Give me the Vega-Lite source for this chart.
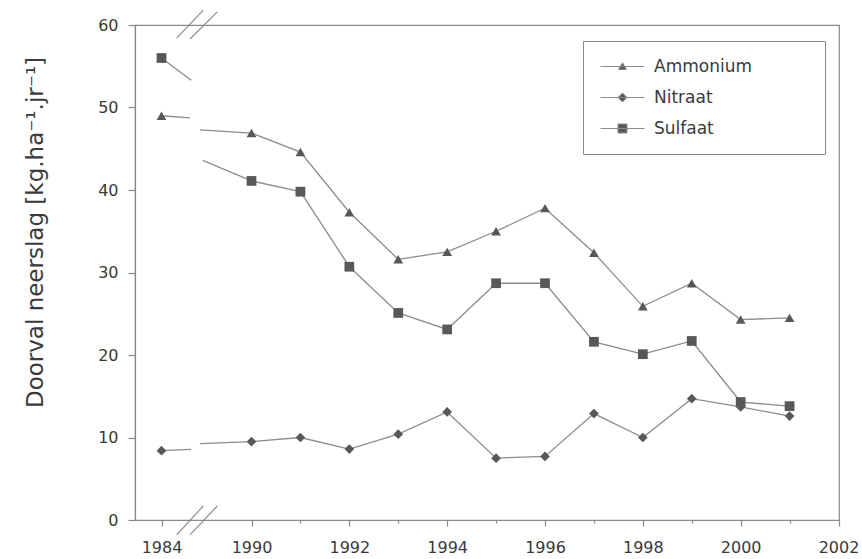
{
  "$schema": "https://vega.github.io/schema/vega-lite/v6.json",
  "width": 704,
  "height": 495,
  "autosize": {"type": "none"},
  "padding": {"left": 135, "top": 25, "right": 23, "bottom": 39},
  "background": "white",
  "config": {
    "view": {"stroke": "#8a8a8a", "strokeWidth": 1.2},
    "font": "DejaVu Sans",
    "axis": {"grid": false, "domainColor": "#8a8a8a", "domainWidth": 1.2, "tickColor": "#8a8a8a", "tickWidth": 1.2, "labelColor": "#3a3a3a", "titleColor": "#3a3a3a", "labelFont": "DejaVu Sans", "titleFont": "DejaVu Sans"}
  },
  "datasets": {
    "reeks": [
      {"stof": "Ammonium", "deel": "a", "jaar": 1984, "waarde": 49.0},
      {"stof": "Ammonium", "deel": "a", "jaar": 1985.9, "waarde": 48.75},
      {"stof": "Ammonium", "deel": "b", "jaar": 1986.57, "waarde": 47.3},
      {"stof": "Ammonium", "deel": "b", "jaar": 1990, "waarde": 46.9},
      {"stof": "Ammonium", "deel": "b", "jaar": 1991, "waarde": 44.6},
      {"stof": "Ammonium", "deel": "b", "jaar": 1992, "waarde": 37.3},
      {"stof": "Ammonium", "deel": "b", "jaar": 1993, "waarde": 31.6},
      {"stof": "Ammonium", "deel": "b", "jaar": 1994, "waarde": 32.5},
      {"stof": "Ammonium", "deel": "b", "jaar": 1995, "waarde": 35.0},
      {"stof": "Ammonium", "deel": "b", "jaar": 1996, "waarde": 37.8},
      {"stof": "Ammonium", "deel": "b", "jaar": 1997, "waarde": 32.4},
      {"stof": "Ammonium", "deel": "b", "jaar": 1998, "waarde": 25.9},
      {"stof": "Ammonium", "deel": "b", "jaar": 1999, "waarde": 28.7},
      {"stof": "Ammonium", "deel": "b", "jaar": 2000, "waarde": 24.3},
      {"stof": "Ammonium", "deel": "b", "jaar": 2001, "waarde": 24.5},
      {"stof": "Nitraat", "deel": "a", "jaar": 1984, "waarde": 8.4},
      {"stof": "Nitraat", "deel": "a", "jaar": 1985.98, "waarde": 8.55},
      {"stof": "Nitraat", "deel": "b", "jaar": 1986.57, "waarde": 9.25},
      {"stof": "Nitraat", "deel": "b", "jaar": 1990, "waarde": 9.5},
      {"stof": "Nitraat", "deel": "b", "jaar": 1991, "waarde": 10.0},
      {"stof": "Nitraat", "deel": "b", "jaar": 1992, "waarde": 8.6},
      {"stof": "Nitraat", "deel": "b", "jaar": 1993, "waarde": 10.4},
      {"stof": "Nitraat", "deel": "b", "jaar": 1994, "waarde": 13.1},
      {"stof": "Nitraat", "deel": "b", "jaar": 1995, "waarde": 7.5},
      {"stof": "Nitraat", "deel": "b", "jaar": 1996, "waarde": 7.7},
      {"stof": "Nitraat", "deel": "b", "jaar": 1997, "waarde": 12.9},
      {"stof": "Nitraat", "deel": "b", "jaar": 1998, "waarde": 10.0},
      {"stof": "Nitraat", "deel": "b", "jaar": 1999, "waarde": 14.7},
      {"stof": "Nitraat", "deel": "b", "jaar": 2000, "waarde": 13.7},
      {"stof": "Nitraat", "deel": "b", "jaar": 2001, "waarde": 12.6},
      {"stof": "Sulfaat", "deel": "a", "jaar": 1984, "waarde": 56.0},
      {"stof": "Sulfaat", "deel": "a", "jaar": 1985.98, "waarde": 53.3},
      {"stof": "Sulfaat", "deel": "b", "jaar": 1986.75, "waarde": 43.6},
      {"stof": "Sulfaat", "deel": "b", "jaar": 1990, "waarde": 41.1},
      {"stof": "Sulfaat", "deel": "b", "jaar": 1991, "waarde": 39.8},
      {"stof": "Sulfaat", "deel": "b", "jaar": 1992, "waarde": 30.7},
      {"stof": "Sulfaat", "deel": "b", "jaar": 1993, "waarde": 25.1},
      {"stof": "Sulfaat", "deel": "b", "jaar": 1994, "waarde": 23.1},
      {"stof": "Sulfaat", "deel": "b", "jaar": 1995, "waarde": 28.7},
      {"stof": "Sulfaat", "deel": "b", "jaar": 1996, "waarde": 28.7},
      {"stof": "Sulfaat", "deel": "b", "jaar": 1997, "waarde": 21.6},
      {"stof": "Sulfaat", "deel": "b", "jaar": 1998, "waarde": 20.1},
      {"stof": "Sulfaat", "deel": "b", "jaar": 1999, "waarde": 21.7},
      {"stof": "Sulfaat", "deel": "b", "jaar": 2000, "waarde": 14.3},
      {"stof": "Sulfaat", "deel": "b", "jaar": 2001, "waarde": 13.8}
    ],
    "breuk": [
      {"x1": 1985.01, "x2": 1986.79, "y1": 58.4, "y2": 61.8},
      {"x1": 1985.9, "x2": 1987.72, "y1": 58.3, "y2": 61.6},
      {"x1": 1985.01, "x2": 1986.79, "y1": -1.8, "y2": 1.7},
      {"x1": 1985.9, "x2": 1987.72, "y1": -1.8, "y2": 1.7}
    ]
  },
  "resolve": {"scale": {"shape": "independent"}, "legend": {"shape": "independent"}},
  "layer": [
    {
      "data": {"name": "reeks"},
      "mark": {"type": "line", "color": "#8c8c8c", "strokeWidth": 1.3},
      "encoding": {
        "x": {
          "field": "jaar", "type": "quantitative",
          "scale": {"domain": [1984, 1990, 2002], "range": [26.5, 116.5, 703.5], "zero": false, "nice": false},
          "axis": {
            "title": null,
            "values": [1984, 1990, 1991, 1992, 1993, 1994, 1995, 1996, 1997, 1998, 1999, 2000, 2001, 2002],
            "format": "d",
            "labelExpr": "datum.value % 2 === 0 ? datum.label : ''",
            "tickSize": {"condition": {"test": "datum.value % 2 === 1", "value": 3}, "value": 6},
            "labelFontSize": 16,
            "labelPadding": 13,
            "labelFlush": false
          }
        },
        "y": {
          "field": "waarde", "type": "quantitative",
          "scale": {"domain": [0, 60], "nice": false},
          "axis": {
            "values": [0, 10, 20, 30, 40, 50, 60],
            "title": "Doorval neerslag [kg.ha⁻¹.jr⁻¹]",
            "titleFontSize": 23,
            "titleFontWeight": "normal",
            "titleX": -93,
            "titleY": 207,
            "titleBaseline": "alphabetic",
            "tickSize": 7,
            "labelPadding": 10,
            "labelFontSize": 16
          }
        },
        "detail": [{"field": "stof"}, {"field": "deel"}]
      }
    },
    {
      "data": {"name": "reeks"},
      "transform": [{"filter": "datum.jaar % 1 === 0"}],
      "mark": {"type": "point", "filled": true, "color": "#585858", "opacity": 1, "size": 95},
      "encoding": {
        "x": {"field": "jaar", "type": "quantitative"},
        "y": {"field": "waarde", "type": "quantitative"},
        "shape": {
          "field": "stof", "type": "nominal",
          "scale": {"domain": ["Ammonium", "Nitraat", "Sulfaat"], "range": ["triangle-up", "diamond", "square"]},
          "legend": null
        }
      }
    },
    {
      "data": {"name": "reeks"},
      "transform": [{"filter": "datum.jaar === 1984"}],
      "mark": {"type": "point", "filled": false, "fill": "#585858", "stroke": "#8c8c8c", "strokeWidth": 1, "opacity": 0, "size": 100},
      "encoding": {
        "x": {"field": "jaar", "type": "quantitative"},
        "y": {"field": "waarde", "type": "quantitative"},
        "shape": {
          "field": "stof", "type": "nominal",
          "scale": {
            "domain": ["Ammonium", "Nitraat", "Sulfaat"],
            "range": ["M-4.4,0H4.4M0,-0.75L0.8,0.6L-0.8,0.6Z", "M-4.4,0H4.4M0,-0.9L0.9,0L0,0.9L-0.9,0Z", "M-4.4,0H4.4M-0.9,-0.9H0.9V0.9H-0.9Z"]
          },
          "legend": {
            "title": null,
            "orient": "none",
            "legendX": 448,
            "legendY": 16,
            "strokeColor": "#8a8a8a",
            "padding": 17,
            "labelFontSize": 17,
            "labelColor": "#3a3a3a",
            "labelOffset": 23,
            "symbolOffset": 14,
            "labelLimit": 400,
            "rowPadding": 13,
            "symbolSize": 100,
            "symbolOpacity": 1,
            "symbolStrokeWidth": 1,
            "labelExpr": "datum.label + '\u2800\u2800\u00a0\u2800\u2800'",
            "encode": {
              "symbols": {
                "stroke": {"value": "#8c8c8c"},
                "fill": {"value": "#585858"},
                "strokeWidth": {"value": 1}
              }
            }
          }
        }
      }
    },
    {
      "data": {"name": "breuk"},
      "mark": {"type": "rule", "color": "#8c8c8c", "strokeWidth": 1.2},
      "encoding": {
        "x": {"field": "x1", "type": "quantitative"},
        "x2": {"field": "x2"},
        "y": {"field": "y1", "type": "quantitative"},
        "y2": {"field": "y2"}
      }
    }
  ]
}
